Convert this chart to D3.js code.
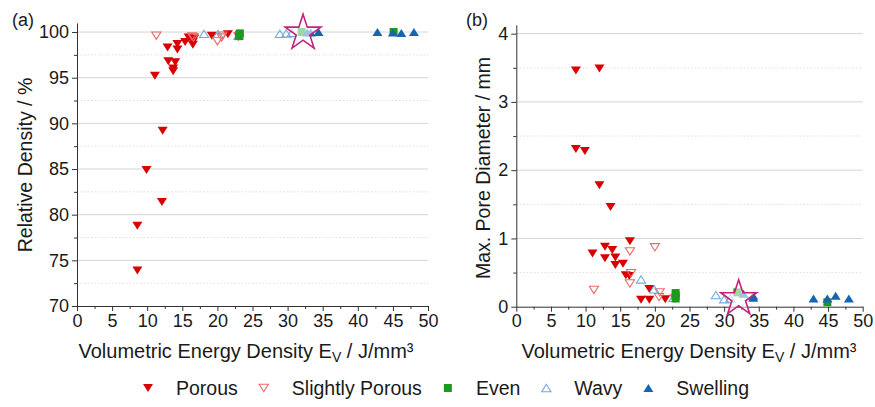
<!DOCTYPE html>
<html><head><meta charset="utf-8">
<script src="https://cdn.jsdelivr.net/npm/d3@7"></script>
<style>
body{margin:0;background:#fff}
svg text{font-family:Arial,"Liberation Sans",Helvetica,sans-serif;fill:#1a1a1a}
</style>
</head><body>
<svg id="chart" width="875" height="407"></svg>
<script>
// ---------- data ----------
const xTicks = [0,5,10,15,20,25,30,35,40,45,50];
const densityTicks = [70,75,80,85,90,95,100];
const poreTicks = [0,1,2,3,4];
const xTitle = "Volumetric Energy Density E";
const densityTitle = "Relative Density / %";
const poreTitle = "Max. Pore Diameter / mm";
const legendLabels = ["Porous","Slightly Porous","Even","Wavy","Swelling"];

// (a) relative density [Ev, %]
const porousDensity = [[8.6,73.9],[8.6,78.8],[9.9,84.9],[12.1,81.4],[11.1,95.2],[12.2,89.2],[12.9,98.3],[13.0,96.8],[14.0,96.7],[13.7,96.0],[13.7,95.7],[14.3,98.7],[14.3,98.1],[15.4,98.9],[15.9,99.4],[16.5,98.9],[16.5,98.6],[16.7,99.3],[19.2,99.6],[21.5,99.75]];
const slightlyDensity = [[11.3,99.6],[16.4,99.5],[16.6,99.4],[20.0,99.0],[20.6,99.4],[20.7,99.6],[23.0,99.5]];
const evenDensity = [[23.1,99.55],[23.1,99.7],[23.2,99.85],[32.0,100.0],[45.1,100.0]];
const wavyDensity = [[18.1,99.8],[20.1,99.8],[23.0,99.6],[28.9,99.8],[29.8,99.85],[30.6,99.9]];
const swellingDensity = [[32.8,99.95],[33.3,99.95],[34.4,100.0],[42.8,100.0],[45.0,99.95],[46.2,99.9],[48.0,100.0]];
const starDensity = [[32.2,99.9]];

// (b) max pore diameter [Ev, mm]
const porousPore = [[8.6,3.46],[12.0,3.49],[8.6,2.31],[9.9,2.28],[12.0,1.78],[13.6,1.46],[11.0,0.78],[12.8,0.88],[12.8,0.71],[13.85,0.83],[14.3,0.72],[14.3,0.61],[15.4,0.63],[15.8,0.46],[16.4,0.96],[16.3,0.45],[18.0,0.10],[19.2,0.26],[19.2,0.10],[21.5,0.11]];
const slightlyPore = [[11.2,0.245],[16.4,0.81],[20.0,0.87],[16.55,0.49],[16.4,0.34],[20.6,0.14],[20.7,0.21],[22.9,0.12]];
const evenPore = [[23.0,0.20],[23.0,0.16],[23.0,0.12],[31.9,0.21],[44.9,0.065]];
const wavyPore = [[18.0,0.40],[19.9,0.255],[22.7,0.13],[28.8,0.17],[30.0,0.11],[30.9,0.12]];
const swellingPore = [[32.8,0.19],[34.2,0.16],[34.2,0.13],[42.9,0.12],[44.9,0.12],[46.1,0.16],[48.0,0.12]];
const starPore = [[32.1,0.12]];

// ---------- styles ----------
const C = {porous:"#d80000", slightly:"#ea6a6a", even:"#1d9a1d", wavy:"#72a9dc", swelling:"#1665b2", star:"#c4237c"};

const svg = d3.select("#chart");

function downTri(s){ return `M${-s},${-s*0.8}L${s},${-s*0.8}L0,${s*0.8}Z`; }
function upTri(s){ return `M${-s},${s*0.8}L${s},${s*0.8}L0,${-s*0.8}Z`; }
const starPath = d3.symbol().type(d3.symbolStar).size(300)();

function drawMarker(g, kind, x, y){
  const t = `translate(${x},${y})`;
  if(kind==="porous") g.append("path").attr("d",downTri(5)).attr("transform",t).attr("fill",C.porous);
  else if(kind==="slightly") g.append("path").attr("d",downTri(4.6)).attr("transform",t).attr("fill","none").attr("stroke",C.slightly).attr("stroke-width",1.1);
  else if(kind==="even") g.append("rect").attr("x",x-4).attr("y",y-4).attr("width",8).attr("height",8).attr("fill",C.even);
  else if(kind==="wavy") g.append("path").attr("d",upTri(4.6)).attr("transform",t).attr("fill","none").attr("stroke",C.wavy).attr("stroke-width",1.1);
  else if(kind==="swelling") g.append("path").attr("d",upTri(5)).attr("transform",t).attr("fill",C.swelling);
  else if(kind==="star") g.append("path").attr("d",starPath).attr("transform",t+" scale(1.15)").attr("fill","white").attr("fill-opacity",0.6).attr("stroke",C.star).attr("stroke-width",1.4);
}

function panel(opt){
  const g = svg.append("g");
  const x = d3.scaleLinear().domain([0,50]).range(opt.xr);
  const y = d3.scaleLinear().domain(opt.yd).range(opt.yr);
  // grid
  g.append("g").selectAll("line").data(opt.minor).join("line")
    .attr("x1",opt.xr[0]).attr("x2",opt.xr[1]).attr("y1",d=>y(d)).attr("y2",d=>y(d))
    .attr("stroke","#dedede").attr("stroke-dasharray","1.5,2");
  g.append("g").selectAll("line").data(opt.major.filter(d=>d!==opt.yd[0])).join("line")
    .attr("x1",opt.xr[0]).attr("x2",opt.xr[1]).attr("y1",d=>y(d)).attr("y2",d=>y(d))
    .attr("stroke","#d4d4d4");
  // axes
  const xMinor = d3.range(2.5,50,5);
  const ax = g.append("g").attr("transform",`translate(0,${y(opt.yd[0])})`);
  ax.call(d3.axisBottom(x).tickValues(xTicks).tickSize(5).tickSizeOuter(0).tickPadding(3));
  ax.append("g").call(d3.axisBottom(x).tickValues(xMinor).tickSize(3).tickFormat(""));
  ax.selectAll("g > path.domain").filter((d,i,n)=>n[i].parentNode!==ax.node()).remove();
  const ay = g.append("g").attr("transform",`translate(${opt.xr[0]},0)`);
  ay.call(d3.axisLeft(y).tickValues(opt.major).tickSize(5).tickSizeOuter(0).tickPadding(3).tickFormat(d3.format("d")));
  ay.append("g").call(d3.axisLeft(y).tickValues(opt.minor).tickSize(3).tickFormat(""));
  ay.selectAll("g > path.domain").filter((d,i,n)=>n[i].parentNode!==ay.node()).remove();
  [ax,ay].forEach(a=>{
    a.selectAll("path,line").attr("stroke","#333");
    a.selectAll("text").attr("font-size",18).attr("fill","#1a1a1a").attr("font-family","Arial, Liberation Sans, sans-serif");
  });
  // series
  const mk = g.append("g");
  opt.series.forEach(([kind,data])=>data.forEach(d=>drawMarker(mk,kind,x(d[0]),y(d[1]))));
  // titles
  const xt = g.append("text").attr("x",opt.xtc).attr("y",358).attr("text-anchor","middle").attr("font-size",20);
  xt.append("tspan").text(xTitle);
  xt.append("tspan").attr("font-size",14).attr("dy",4).text("V");
  xt.append("tspan").attr("dy",-4).text(" / J/mm³");
  g.append("text").attr("transform",`translate(${opt.ytx},${opt.yty}) rotate(-90)`)
    .attr("text-anchor","middle").attr("font-size",19.5).text(opt.ytitle);
  g.append("text").attr("x",opt.lx).attr("y",26).attr("font-size",18).text(opt.label);
}

panel({xr:[77,428], yd:[70,101], yr:[306,22.9], major:densityTicks, minor:d3.range(72.5,100,5),
  ytitle:densityTitle, ytx:32, yty:165, label:"(a)", lx:12, xtc:246,
  series:[["porous",porousDensity],["slightly",slightlyDensity],["wavy",wavyDensity],["even",evenDensity],["swelling",swellingDensity],["star",starDensity]]});
panel({xr:[516.3,862.7], yd:[0,4.13], yr:[306.7,24.8], major:poreTicks, minor:[0.5,1.5,2.5,3.5],
  ytitle:poreTitle, ytx:490, yty:168, label:"(b)", lx:466, xtc:689,
  series:[["porous",porousPore],["slightly",slightlyPore],["wavy",wavyPore],["even",evenPore],["swelling",swellingPore],["star",starPore]]});

// legend (flow layout)
const legendKinds = ["porous","slightly","even","wavy","swelling"];
const lg = svg.append("g");
let cursor = 148;
legendKinds.forEach((k,i)=>{
  drawMarker(lg,k,cursor,388);
  const t = lg.append("text").attr("x",cursor+28).attr("y",395).attr("font-size",19.5).text(legendLabels[i]);
  cursor = cursor + 28 + t.node().getComputedTextLength() + 26;
});
</script>
</body></html>
